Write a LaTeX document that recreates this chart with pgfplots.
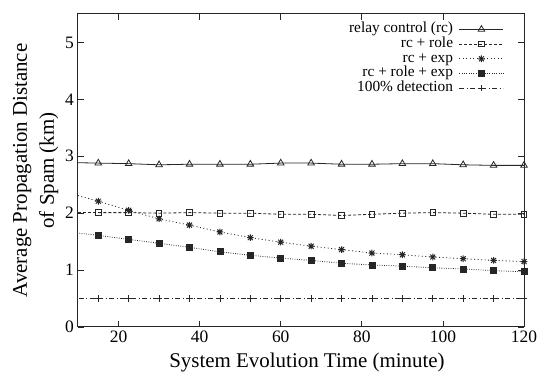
\documentclass[border=0pt]{standalone}
\usepackage{fontspec}
\setmainfont{Liberation Serif}
\usepackage{pgfplots}
\pgfplotsset{compat=1.18}
\pgfdeclareplotmark{gstar}{%
  \pgfpathmoveto{\pgfqpoint{-\pgfplotmarksize}{0pt}}\pgfpathlineto{\pgfqpoint{\pgfplotmarksize}{0pt}}%
  \pgfpathmoveto{\pgfqpoint{0pt}{-\pgfplotmarksize}}\pgfpathlineto{\pgfqpoint{0pt}{\pgfplotmarksize}}%
  \pgfpathmoveto{\pgfqpoint{-0.75\pgfplotmarksize}{-0.75\pgfplotmarksize}}\pgfpathlineto{\pgfqpoint{0.75\pgfplotmarksize}{0.75\pgfplotmarksize}}%
  \pgfpathmoveto{\pgfqpoint{-0.75\pgfplotmarksize}{0.75\pgfplotmarksize}}\pgfpathlineto{\pgfqpoint{0.75\pgfplotmarksize}{-0.75\pgfplotmarksize}}%
  \pgfusepathqstroke}
\begin{document}
\begin{tikzpicture}
\begin{axis}[
  scale only axis, width=446bp, height=313bp,
  xmin=10, xmax=120, ymin=0, ymax=5.5,
  xtick={20,40,...,120}, ytick={0,1,...,5},
  tick align=inside, major tick length=6bp,
  axis line style={line width=1bp, black!85},
  every tick/.style={black!85, line width=0.8bp},
  /pgf/number format/assume math mode=true,
  ticklabel style={font=\fontsize{17.5}{20}\selectfont},
  yticklabel style={inner sep=0pt, xshift=-4bp},
  xlabel={System Evolution Time (minute)},
  ylabel={Average Propagation Distance\\of Spam (km)},
  xlabel style={font=\fontsize{21}{27}\selectfont, inner sep=0pt, at={(axis description cs:0.5,0)}, anchor=base, yshift=-41bp, xshift=6bp},
  ylabel style={font=\fontsize{21}{27}\selectfont, align=center, inner sep=0pt, at={(axis description cs:0,0.5)}, anchor=south, yshift=19.5bp},
  legend plot pos=right,
  legend cell align=right,
  legend style={draw=none, fill=none, at={(rel axis cs:0.962,0.981)}, anchor=north east,
    font=\fontsize{15.4}{16}\selectfont, column sep=6bp, row sep=0.2bp,
    nodes={inner sep=0pt, text height=10.5bp, text depth=4bp}},
  legend image code/.code={\draw[mark repeat=2,mark phase=2,#1] plot coordinates {(0bp,0bp) (22bp,0bp) (44bp,0bp)};},
  every axis plot/.append style={line width=0.8bp, black!85},
]
% relay control
\addplot[solid, mark=triangle, mark size=3.8bp, mark options={solid, line width=0.8bp}] coordinates {
(15,2.88) (22.5,2.87) (30,2.85) (37.5,2.86) (45,2.86) (52.5,2.86) (60,2.88) (67.5,2.88)
(75,2.86) (82.5,2.86) (90,2.87) (97.5,2.87) (105,2.85) (112.5,2.84) (120,2.84)};
\addlegendentry{relay control (rc)}
% rc + role
\addplot[dash pattern=on 3bp off 2bp, mark=square, mark size=2.8bp, mark options={solid, line width=0.8bp}] coordinates {
(15,2.01) (22.5,2.01) (30,2.00) (37.5,2.01) (45,2.00) (52.5,2.00) (60,1.98) (67.5,1.98)
(75,1.96) (82.5,1.98) (90,2.00) (97.5,2.01) (105,2.00) (112.5,1.98) (120,1.98)};
\addlegendentry{rc + role}
% rc + exp
\addplot[dash pattern=on 1bp off 2.5bp, mark=gstar, mark size=3.3bp, mark options={solid, line width=1bp}] coordinates {
(15,2.21) (22.5,2.05) (30,1.90) (37.5,1.79) (45,1.67) (52.5,1.57) (60,1.49) (67.5,1.42)
(75,1.36) (82.5,1.30) (90,1.27) (97.5,1.23) (105,1.20) (112.5,1.17) (120,1.15)};
\addlegendentry{rc + exp}
% rc + role + exp
\addplot[dash pattern=on 0.8bp off 1.5bp, mark=square*, mark size=3bp, mark options={solid}] coordinates {
(15,1.61) (22.5,1.54) (30,1.47) (37.5,1.40) (45,1.32) (52.5,1.26) (60,1.21) (67.5,1.17)
(75,1.12) (82.5,1.09) (90,1.07) (97.5,1.04) (105,1.02) (112.5,0.99) (120,0.97)};
\addlegendentry{rc + role + exp}
% 100% detection
\addplot[dash pattern=on 5bp off 2.5bp on 1bp off 2.5bp, mark=+, mark size=3.2bp, mark options={solid, line width=0.8bp}] coordinates {
(15,0.5) (22.5,0.5) (30,0.5) (37.5,0.5) (45,0.5) (52.5,0.5) (60,0.5) (67.5,0.5)
(75,0.5) (82.5,0.5) (90,0.5) (97.5,0.5) (105,0.5) (112.5,0.5) (120,0.5)};
\addlegendentry{100\% detection}
% leading segments (before first marked point)
\addplot[solid, forget plot] coordinates {(7.5,2.89) (15,2.88)};
\addplot[dash pattern=on 3bp off 2bp, forget plot] coordinates {(7.5,2.01) (15,2.01)};
\addplot[dash pattern=on 1bp off 2.5bp, forget plot] coordinates {(7.5,2.36) (15,2.21)};
\addplot[dash pattern=on 0.8bp off 1.5bp, forget plot] coordinates {(7.5,1.67) (15,1.61)};
\addplot[dash pattern=on 5bp off 2.5bp on 1bp off 2.5bp, forget plot] coordinates {(7.5,0.5) (15,0.5)};
\end{axis}
\pgfresetboundingbox
\path (current axis.south west) ++(-78bp,-50bp) coordinate (bbA);
\path (current axis.north east) ++(16bp,14bp) coordinate (bbB);
\useasboundingbox (bbA) rectangle (bbB);
\end{tikzpicture}
\end{document}
